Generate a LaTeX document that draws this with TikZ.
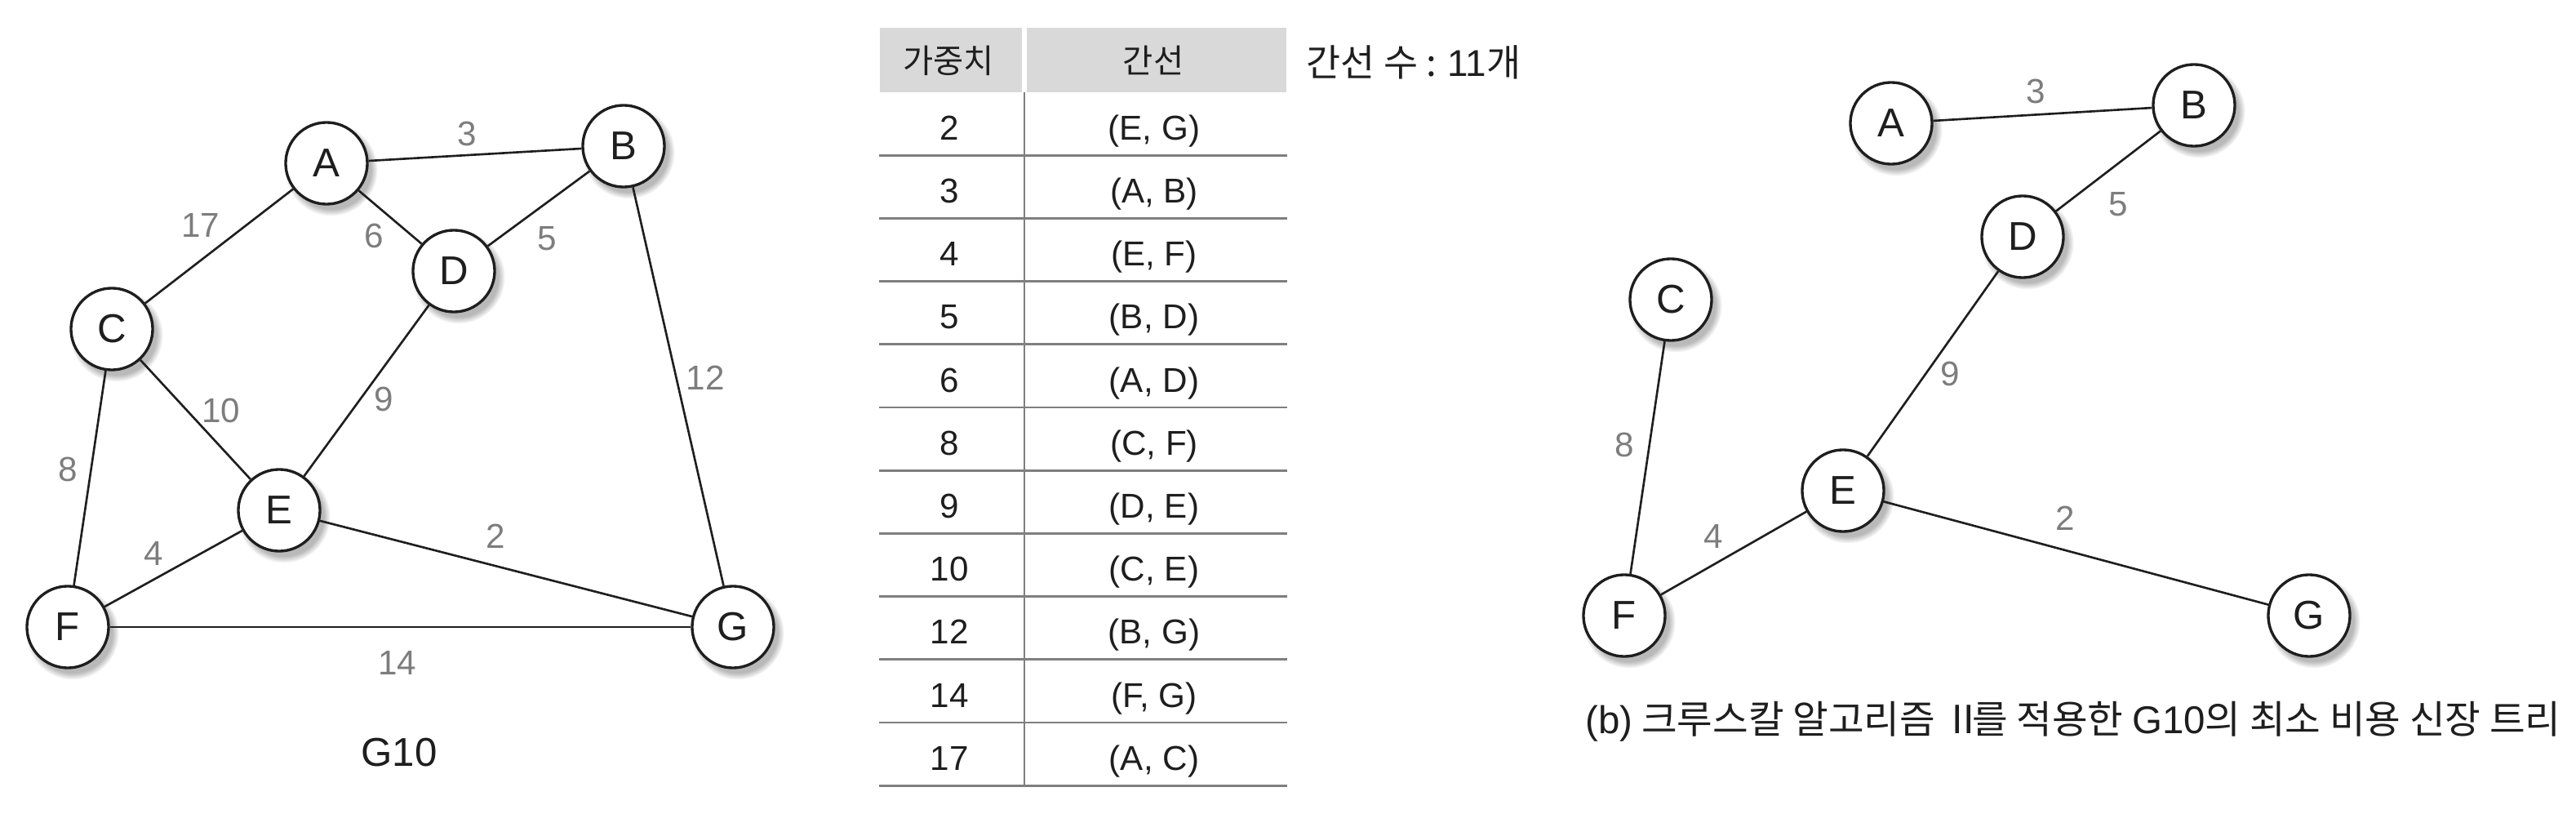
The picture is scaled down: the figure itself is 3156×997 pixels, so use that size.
\documentclass[tikz,border=0pt]{standalone}
\usepackage{fontspec}
\setmainfont{Liberation Sans}
\newfontfamily\kr{Noto Sans CJK KR}
\newcommand\latn[1]{{\rmfamily #1}}
\usetikzlibrary{shadows}
\definecolor{ink}{HTML}{1E1E1E}
\definecolor{wgray}{HTML}{7D7D7D}
\definecolor{hdrfill}{HTML}{D9D9DA}
\definecolor{rulegray}{HTML}{7F7F7F}
\begin{document}
\begin{tikzpicture}[x=0.01cm, y=-0.01cm,
  vtx/.style={circle, draw=ink, line width=0.95pt, fill=white, minimum size=1cm,
    inner sep=0pt, text=ink, font=\fontsize{14}{14}\selectfont,
    circular drop shadow={shadow xshift=0.05cm, shadow yshift=-0.065cm, shadow scale=1.14, opacity=0.55}},
  lnk/.style={draw=ink, line width=0.75pt},
  wlab/.style={text=wgray, font=\fontsize{12}{12}\selectfont, inner sep=0pt},
  cell/.style={text=ink, font=\fontsize{12}{12}\selectfont, inner sep=0pt, anchor=base},
  hcell/.style={text=ink, font=\kr\fontsize{11.5}{11.5}\selectfont, inner sep=0pt},
  hbox/.style={fill=hdrfill, draw=none},
  rulel/.style={draw=rulegray, line width=0.75pt},
  captxt/.style={text=ink, inner sep=0pt}]
\useasboundingbox (0,0) rectangle (3156,997);

% ---------- graph G10 ----------
\node[vtx] (A) at (400,200) {A};
\node[vtx] (B) at (764,179) {B};
\node[vtx] (C) at (137,403) {C};
\node[vtx] (D) at (556,332) {D};
\node[vtx] (E) at (342,625) {E};
\node[vtx] (F) at (83,768) {F};
\node[vtx] (G) at (898,768) {G};
\draw[lnk] (A) -- (B);
\draw[lnk] (A) -- (C);
\draw[lnk] (A) -- (D);
\draw[lnk] (B) -- (D);
\draw[lnk] (B) -- (G);
\draw[lnk] (C) -- (E);
\draw[lnk] (C) -- (F);
\draw[lnk] (D) -- (E);
\draw[lnk] (E) -- (F);
\draw[lnk] (E) -- (G);
\draw[lnk] (F) -- (G);
\node[wlab] (w3) at (572,164) {3};
\node[wlab] (w17) at (246,276) {17};
\node[wlab] (w6) at (458,289) {6};
\node[wlab] (w5) at (670,292) {5};
\node[wlab] (w12) at (864,463) {12};
\node[wlab] (w10) at (271,503) {10};
\node[wlab] (w9) at (470,489) {9};
\node[wlab] (w8) at (83,575) {8};
\node[wlab] (w4) at (188,678) {4};
\node[wlab] (w2) at (607,657) {2};
\node[wlab] (w14) at (487,812) {14};
\node[captxt, font=\fontsize{14}{14}\selectfont] (g10) at (489,922) {G10};

% ---------- table ----------
\fill[hbox] (1078,34) rectangle (1252,113);
\fill[hbox] (1258,34) rectangle (1576,113);
\node[hcell] (h1) at (1162,74) {가중치};
\node[hcell] (h2) at (1413,74) {간선};
\draw[rulel] (1255,113) -- (1255,{113+77.2*11});
\foreach \k in {1,...,11}{
  \draw[rulel] (1077,{113+77.2*\k}) -- (1577,{113+77.2*\k});
}
\foreach \w/\a/\b [count=\k] in {2/E/G, 3/A/B, 4/E/F, 5/B/D, 6/A/D, 8/C/F, 9/D/E, 10/C/E, 12/B/G, 14/F/G, 17/A/C}{
  \node[cell] (wt\k) at (1163,{113+77.2*\k-19}) {\w};
  \node[cell] (ed\k) at (1414,{113+77.2*\k-19}) {(\a, \b)};
}
\node[captxt, anchor=west, font=\kr\fontsize{13}{13}\selectfont] (cnt) at (1600,76) {간선 수 : \latn{11}개};

% ---------- spanning tree ----------
\node[vtx] (A2) at (2317,151) {A};
\node[vtx] (B2) at (2688,129) {B};
\node[vtx] (C2) at (2047,367) {C};
\node[vtx] (D2) at (2478,290) {D};
\node[vtx] (E2) at (2258,601) {E};
\node[vtx] (F2) at (1990,754) {F};
\node[vtx] (G2) at (2829,754) {G};
\draw[lnk] (A2) -- (B2);
\draw[lnk] (B2) -- (D2);
\draw[lnk] (D2) -- (E2);
\draw[lnk] (C2) -- (F2);
\draw[lnk] (E2) -- (F2);
\draw[lnk] (E2) -- (G2);
\node[wlab] (v3) at (2494,112) {3};
\node[wlab] (v5) at (2595,250) {5};
\node[wlab] (v9) at (2389,458) {9};
\node[wlab] (v8) at (1990,545) {8};
\node[wlab] (v4) at (2099,657) {4};
\node[wlab] (v2) at (2530,635) {2};
\node[captxt, font=\kr\fontsize{13.5}{13.5}\selectfont] (cap) at (2540,884)
  {\latn{(b)} 크루스칼 알고리즘 Ⅱ\kern-0.28em 를 적용한 \latn{G10}의 최소 비용 신장 트리};
\end{tikzpicture}
\end{document}
